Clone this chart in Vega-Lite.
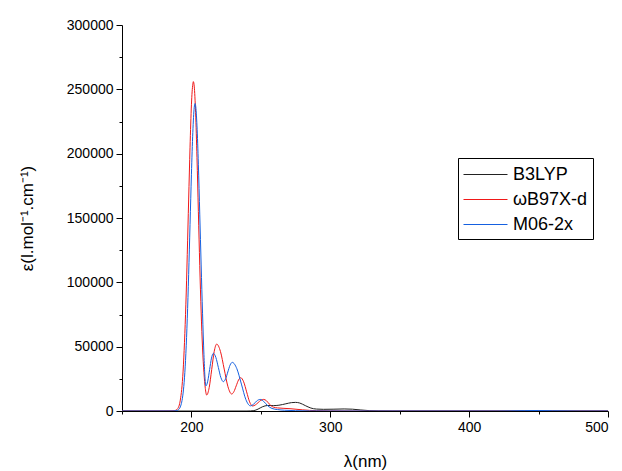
{
  "$schema": "https://vega.github.io/schema/vega-lite/v6.json",
  "width": 486,
  "height": 386,
  "autosize": {"type": "none"},
  "padding": {"left": 122, "top": 25, "right": 14, "bottom": 60},
  "background": "white",
  "config": {
    "view": {"stroke": null},
    "font": "Liberation Sans",
    "axis": {
      "grid": false,
      "domainColor": "black",
      "tickColor": "black",
      "labelColor": "black",
      "titleColor": "black",
      "labelFont": "Liberation Sans",
      "titleFont": "Liberation Sans",
      "labelFontSize": 14,
      "titleFontSize": 17,
      "titleFontWeight": "normal"
    }
  },
  "data": {
    "values": [
      {"s": "B3LYP", "x": 150, "y": 0},
      {"s": "B3LYP", "x": 240, "y": 0},
      {"s": "B3LYP", "x": 245, "y": 300},
      {"s": "B3LYP", "x": 248, "y": 1500},
      {"s": "B3LYP", "x": 251, "y": 3200},
      {"s": "B3LYP", "x": 255, "y": 4300},
      {"s": "B3LYP", "x": 259, "y": 4200},
      {"s": "B3LYP", "x": 263, "y": 4500},
      {"s": "B3LYP", "x": 268, "y": 5600},
      {"s": "B3LYP", "x": 272, "y": 6500},
      {"s": "B3LYP", "x": 275, "y": 6700},
      {"s": "B3LYP", "x": 278, "y": 6200},
      {"s": "B3LYP", "x": 282, "y": 4200},
      {"s": "B3LYP", "x": 286, "y": 2300},
      {"s": "B3LYP", "x": 290, "y": 1500},
      {"s": "B3LYP", "x": 295, "y": 1300},
      {"s": "B3LYP", "x": 302, "y": 1400},
      {"s": "B3LYP", "x": 310, "y": 1600},
      {"s": "B3LYP", "x": 316, "y": 1400},
      {"s": "B3LYP", "x": 322, "y": 800},
      {"s": "B3LYP", "x": 328, "y": 300},
      {"s": "B3LYP", "x": 335, "y": 50},
      {"s": "B3LYP", "x": 345, "y": 0},
      {"s": "B3LYP", "x": 500, "y": 0},

      {"s": "ωB97X-d", "x": 150, "y": 0},
      {"s": "ωB97X-d", "x": 180, "y": 0},
      {"s": "ωB97X-d", "x": 186, "y": 30},
      {"s": "ωB97X-d", "x": 188, "y": 300},
      {"s": "ωB97X-d", "x": 190, "y": 1700},
      {"s": "ωB97X-d", "x": 192, "y": 8500},
      {"s": "ωB97X-d", "x": 194, "y": 31000},
      {"s": "ωB97X-d", "x": 196, "y": 83000},
      {"s": "ωB97X-d", "x": 198, "y": 164000},
      {"s": "ωB97X-d", "x": 199, "y": 205000},
      {"s": "ωB97X-d", "x": 200, "y": 238000},
      {"s": "ωB97X-d", "x": 201, "y": 254000},
      {"s": "ωB97X-d", "x": 201.4, "y": 256000},
      {"s": "ωB97X-d", "x": 202, "y": 252500},
      {"s": "ωB97X-d", "x": 203, "y": 232000},
      {"s": "ωB97X-d", "x": 204, "y": 197000},
      {"s": "ωB97X-d", "x": 205, "y": 155000},
      {"s": "ωB97X-d", "x": 206, "y": 113000},
      {"s": "ωB97X-d", "x": 207, "y": 77000},
      {"s": "ωB97X-d", "x": 208, "y": 49000},
      {"s": "ωB97X-d", "x": 209, "y": 30000},
      {"s": "ωB97X-d", "x": 210, "y": 17500},
      {"s": "ωB97X-d", "x": 211, "y": 12400},
      {"s": "ωB97X-d", "x": 212.8, "y": 18200},
      {"s": "ωB97X-d", "x": 214.6, "y": 32200},
      {"s": "ωB97X-d", "x": 216.4, "y": 46200},
      {"s": "ωB97X-d", "x": 218.2, "y": 52000},
      {"s": "ωB97X-d", "x": 220.9, "y": 46300},
      {"s": "ωB97X-d", "x": 223.6, "y": 32600},
      {"s": "ωB97X-d", "x": 226.3, "y": 18900},
      {"s": "ωB97X-d", "x": 229, "y": 13200},
      {"s": "ωB97X-d", "x": 230.6, "y": 15050},
      {"s": "ωB97X-d", "x": 232.25, "y": 19550},
      {"s": "ωB97X-d", "x": 233.9, "y": 24050},
      {"s": "ωB97X-d", "x": 235.5, "y": 25900},
      {"s": "ωB97X-d", "x": 237.6, "y": 22700},
      {"s": "ωB97X-d", "x": 239.75, "y": 14900},
      {"s": "ωB97X-d", "x": 241.9, "y": 7100},
      {"s": "ωB97X-d", "x": 244, "y": 3900},
      {"s": "ωB97X-d", "x": 246, "y": 4700},
      {"s": "ωB97X-d", "x": 248, "y": 6500},
      {"s": "ωB97X-d", "x": 250, "y": 8300},
      {"s": "ωB97X-d", "x": 252, "y": 9000},
      {"s": "ωB97X-d", "x": 254, "y": 8000},
      {"s": "ωB97X-d", "x": 256, "y": 5500},
      {"s": "ωB97X-d", "x": 259, "y": 3000},
      {"s": "ωB97X-d", "x": 262, "y": 2400},
      {"s": "ωB97X-d", "x": 266, "y": 2100},
      {"s": "ωB97X-d", "x": 271, "y": 1800},
      {"s": "ωB97X-d", "x": 276, "y": 1300},
      {"s": "ωB97X-d", "x": 280, "y": 900},
      {"s": "ωB97X-d", "x": 285, "y": 500},
      {"s": "ωB97X-d", "x": 290, "y": 250},
      {"s": "ωB97X-d", "x": 300, "y": 80},
      {"s": "ωB97X-d", "x": 320, "y": 0},
      {"s": "ωB97X-d", "x": 500, "y": 0},

      {"s": "M06-2x", "x": 150, "y": 0},
      {"s": "M06-2x", "x": 186, "y": 0},
      {"s": "M06-2x", "x": 189, "y": 200},
      {"s": "M06-2x", "x": 190, "y": 530},
      {"s": "M06-2x", "x": 191, "y": 1340},
      {"s": "M06-2x", "x": 192, "y": 3180},
      {"s": "M06-2x", "x": 193, "y": 6930},
      {"s": "M06-2x", "x": 194, "y": 13900},
      {"s": "M06-2x", "x": 195, "y": 25800},
      {"s": "M06-2x", "x": 196, "y": 44700},
      {"s": "M06-2x", "x": 197, "y": 71700},
      {"s": "M06-2x", "x": 198, "y": 106000},
      {"s": "M06-2x", "x": 199, "y": 145000},
      {"s": "M06-2x", "x": 200, "y": 184000},
      {"s": "M06-2x", "x": 201, "y": 216500},
      {"s": "M06-2x", "x": 202, "y": 235700},
      {"s": "M06-2x", "x": 202.6, "y": 239000},
      {"s": "M06-2x", "x": 203, "y": 237500},
      {"s": "M06-2x", "x": 204, "y": 221600},
      {"s": "M06-2x", "x": 205, "y": 191800},
      {"s": "M06-2x", "x": 206, "y": 153000},
      {"s": "M06-2x", "x": 207, "y": 113500},
      {"s": "M06-2x", "x": 208, "y": 76000},
      {"s": "M06-2x", "x": 209, "y": 44000},
      {"s": "M06-2x", "x": 209.7, "y": 27000},
      {"s": "M06-2x", "x": 210.4, "y": 19500},
      {"s": "M06-2x", "x": 211.75, "y": 23200},
      {"s": "M06-2x", "x": 213.1, "y": 32150},
      {"s": "M06-2x", "x": 214.45, "y": 41100},
      {"s": "M06-2x", "x": 215.8, "y": 44800},
      {"s": "M06-2x", "x": 217.6, "y": 41600},
      {"s": "M06-2x", "x": 219.4, "y": 33800},
      {"s": "M06-2x", "x": 221.2, "y": 26000},
      {"s": "M06-2x", "x": 223, "y": 22800},
      {"s": "M06-2x", "x": 224.6, "y": 25000},
      {"s": "M06-2x", "x": 226.2, "y": 30300},
      {"s": "M06-2x", "x": 227.8, "y": 35600},
      {"s": "M06-2x", "x": 229.4, "y": 37800},
      {"s": "M06-2x", "x": 232.7, "y": 32900},
      {"s": "M06-2x", "x": 236, "y": 20900},
      {"s": "M06-2x", "x": 239.2, "y": 8900},
      {"s": "M06-2x", "x": 242.5, "y": 4000},
      {"s": "M06-2x", "x": 244.5, "y": 5000},
      {"s": "M06-2x", "x": 247, "y": 7800},
      {"s": "M06-2x", "x": 249.5, "y": 9000},
      {"s": "M06-2x", "x": 252, "y": 7500},
      {"s": "M06-2x", "x": 255, "y": 4000},
      {"s": "M06-2x", "x": 258, "y": 2000},
      {"s": "M06-2x", "x": 262, "y": 1100},
      {"s": "M06-2x", "x": 267, "y": 600},
      {"s": "M06-2x", "x": 275, "y": 250},
      {"s": "M06-2x", "x": 285, "y": 80},
      {"s": "M06-2x", "x": 300, "y": 0},
      {"s": "M06-2x", "x": 420, "y": 0},
      {"s": "M06-2x", "x": 440, "y": 300},
      {"s": "M06-2x", "x": 450, "y": 400},
      {"s": "M06-2x", "x": 460, "y": 200},
      {"s": "M06-2x", "x": 480, "y": 0},
      {"s": "M06-2x", "x": 500, "y": 0}
    ]
  },
  "mark": {"type": "line", "interpolate": "monotone", "strokeWidth": 1, "clip": true},
  "encoding": {
    "x": {
      "field": "x",
      "type": "quantitative",
      "scale": {"domain": [150, 500], "nice": false, "zero": false},
      "axis": {
        "title": "λ(nm)",
        "values": [150, 200, 250, 300, 350, 400, 450, 500],
        "labelExpr": "datum.value % 100 === 0 ? datum.label : ''",
        "format": "d",
        "tickSize": {"condition": {"test": "datum.value % 100 === 0", "value": 6}, "value": 3},
        "labelPadding": 3,
        "titlePadding": 19
      }
    },
    "y": {
      "field": "y",
      "type": "quantitative",
      "scale": {"domain": [0, 300000], "nice": false},
      "axis": {
        "title": "ε(l.mol⁻¹.cm⁻¹)",
        "values": [0, 25000, 50000, 75000, 100000, 125000, 150000, 175000, 200000, 225000, 250000, 275000, 300000],
        "labelExpr": "datum.value % 50000 === 0 ? datum.label : ''",
        "format": "d",
        "tickSize": {"condition": {"test": "datum.value % 50000 === 0", "value": 6}, "value": 3},
        "labelPadding": 3,
        "titlePadding": 30
      }
    },
    "color": {
      "field": "s",
      "type": "nominal",
      "sort": ["B3LYP", "ωB97X-d", "M06-2x"],
      "scale": {"domain": ["B3LYP", "ωB97X-d", "M06-2x"], "range": ["#222222", "#f01818", "#1560e0"]},
      "legend": {
        "title": null,
        "orient": "none",
        "legendX": 336,
        "legendY": 133,
        "strokeColor": "black",
        "padding": 5,
        "symbolType": "M-2,0H2",
        "symbolSize": 484,
        "symbolOffset": 11,
        "symbolStrokeWidth": 1,
        "symbolFillColor": "transparent",
        "labelFontSize": 18,
        "labelFont": "Liberation Sans",
        "labelColor": "black",
        "rowPadding": 4,
        "labelOffset": 16
      }
    }
  }
}
